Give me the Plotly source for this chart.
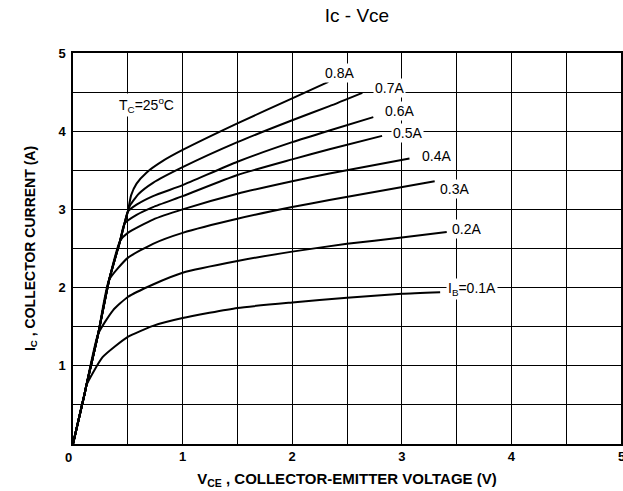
import plotly.graph_objects as go

# Collector current curves (Vce in V, Ic in A), one per base current
vce_01 = [0, 0.107, 0.122, 0.27, 0.5, 0.73, 1.0, 1.5, 2.0, 2.5, 3.0, 3.35]
ic_01 = [0, 0.65, 0.75, 1.11, 1.37, 1.51, 1.61, 1.74, 1.81, 1.87, 1.92, 1.94]

vce_02 = [0, 0.107, 0.122, 0.23, 0.365, 0.5, 0.73, 1.0, 1.5, 2.0, 2.5, 3.0, 3.41]
ic_02 = [0, 0.65, 0.75, 1.41, 1.71, 1.88, 2.04, 2.19, 2.34, 2.46, 2.56, 2.64, 2.71]

vce_03 = [0, 0.107, 0.122, 0.23, 0.33, 0.5, 0.73, 1.0, 1.5, 2.0, 2.34, 3.30]
ic_03 = [0, 0.65, 0.75, 1.41, 2.1, 2.38, 2.56, 2.70, 2.88, 3.03, 3.12, 3.36]

vce_04 = [0, 0.107, 0.122, 0.23, 0.33, 0.43, 0.5, 0.73, 1.0, 1.5, 2.0, 2.34, 3.07]
ic_04 = [0, 0.65, 0.75, 1.41, 2.1, 2.6, 2.70, 2.87, 3.00, 3.20, 3.36, 3.46, 3.65]

vce_05 = [0, 0.107, 0.122, 0.23, 0.33, 0.43, 0.47, 0.58, 0.73, 1.0, 1.5, 2.0, 2.34, 2.82]
ic_05 = [0, 0.65, 0.75, 1.41, 2.1, 2.6, 2.82, 2.93, 3.03, 3.17, 3.44, 3.64, 3.77, 3.94]

vce_06 = [0, 0.107, 0.122, 0.23, 0.33, 0.43, 0.47, 0.5, 0.58, 0.73, 1.0, 1.5, 2.0, 2.34, 2.74]
ic_06 = [0, 0.65, 0.75, 1.41, 2.1, 2.6, 2.82, 2.97, 3.06, 3.17, 3.31, 3.61, 3.86, 4.01, 4.18]

vce_07 = [0, 0.107, 0.122, 0.23, 0.33, 0.43, 0.47, 0.5, 0.52, 0.6, 0.73, 1.0, 1.5, 2.0, 2.34, 2.64]
ic_07 = [0, 0.65, 0.75, 1.41, 2.1, 2.6, 2.82, 2.97, 3.05, 3.2, 3.34, 3.54, 3.86, 4.14, 4.32, 4.49]

vce_08 = [0, 0.107, 0.122, 0.23, 0.33, 0.43, 0.47, 0.5, 0.53, 0.58, 0.67, 0.82, 1.0, 1.5, 2.0, 2.33]
ic_08 = [0, 0.65, 0.75, 1.41, 2.1, 2.6, 2.82, 2.97, 3.18, 3.33, 3.47, 3.62, 3.76, 4.10, 4.42, 4.63]

curves = [
    (vce_01, ic_01), (vce_02, ic_02), (vce_03, ic_03), (vce_04, ic_04),
    (vce_05, ic_05), (vce_06, ic_06), (vce_07, ic_07), (vce_08, ic_08),
]

label_texts = ["I<sub>B</sub>=0.1A", "0.2A", "0.3A", "0.4A", "0.5A", "0.6A", "0.7A", "0.8A"]
label_x = [3.40, 3.44, 3.33, 3.17, 2.90, 2.83, 2.74, 2.28]
label_y = [1.98, 2.75, 3.26, 3.68, 3.98, 4.26, 4.55, 4.75]

x_ticks = [0, 1, 2, 3, 4, 5]
y_ticks = [1, 2, 3, 4, 5]
y_tick_text = ["1", "2", "3", "4", "5"]

FONT = "Liberation Sans, Arial, sans-serif"

fig = go.Figure()
for vx, vy in curves:
    fig.add_trace(go.Scatter(
        x=vx, y=vy, mode="lines",
        line=dict(color="black", width=2, shape="spline", smoothing=0.5),
        showlegend=False, hoverinfo="skip",
    ))

annotations = []
for t, lx, ly in zip(label_texts, label_x, label_y):
    annotations.append(dict(
        x=lx, y=ly, xref="x", yref="y", text=t, showarrow=False,
        xanchor="left", yanchor="middle", bgcolor="white", borderpad=1,
        font=dict(family=FONT, size=14, color="black"),
    ))
annotations.append(dict(
    x=0.40, y=4.34, xref="x", yref="y", text="T<sub>C</sub>=25<sup>o</sup>C",
    showarrow=False, xanchor="left", yanchor="middle", bgcolor="white",
    font=dict(family=FONT, size=14, color="black"),
))
annotations.append(dict(
    x=0, y=0, xref="x", yref="y", text="0", showarrow=False,
    xanchor="right", yanchor="top", xshift=1, yshift=-4,
    font=dict(family=FONT, size=13, color="black", weight="bold"),
))
annotations.append(dict(
    x=5, y=0, xref="x", yref="y", text="5", showarrow=False,
    xanchor="center", yanchor="top", yshift=-3,
    font=dict(family=FONT, size=13, color="black", weight="bold"),
))

fig.update_layout(
    width=623, height=491,
    margin=dict(l=73, r=2, t=53, b=47, autoexpand=False),
    paper_bgcolor="white", plot_bgcolor="white",
    title=dict(text="Ic - Vce", x=0.573, xanchor="center", y=0.968, yanchor="middle",
               font=dict(family=FONT, size=19, color="black")),
    font=dict(family=FONT, color="black"),
    annotations=annotations,
)

fig.update_xaxes(
    range=[0, 5], tickvals=x_ticks[1:5], ticktext=[str(v) for v in x_ticks[1:5]],
    showgrid=True, gridcolor="black", gridwidth=1.2,
    minor=dict(dtick=0.5, showgrid=True, gridcolor="black", gridwidth=1.2),
    showline=True, linecolor="black", linewidth=1.5, mirror=True,
    zeroline=False, ticks="", automargin=False,
    tickfont=dict(family=FONT, size=13, color="black", weight="bold"),
    title=dict(text="V<sub>CE</sub> , COLLECTOR-EMITTER VOLTAGE (V)", standoff=10,
               font=dict(family=FONT, size=15, color="black", weight="bold")),
)
fig.update_yaxes(
    range=[0, 5], tickvals=y_ticks, ticktext=y_tick_text,
    showgrid=True, gridcolor="black", gridwidth=1.2,
    minor=dict(dtick=0.5, showgrid=True, gridcolor="black", gridwidth=1.2),
    showline=True, linecolor="black", linewidth=1.5, mirror=True,
    zeroline=False, ticks="", automargin=False, ticklabelstandoff=3,
    tickfont=dict(family=FONT, size=13, color="black", weight="bold"),
    title=dict(text="I<sub>C</sub> , COLLECTOR CURRENT (A)", standoff=20,
               font=dict(family=FONT, size=14, color="black", weight="bold")),
)

fig.write_html("out.html", config={"displayModeBar": False},
               post_script="document.body.style.margin='0';")
